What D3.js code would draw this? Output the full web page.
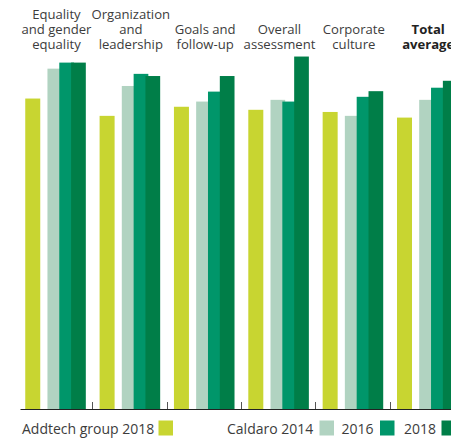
<!DOCTYPE html>
<html>
<head>
<meta charset="utf-8">
<script src="https://cdn.jsdelivr.net/npm/d3@7"></script>
<style>
    body { margin: 0; background: #fff; }
    svg { display: block; }
    .cat { font-family: "Open Sans", sans-serif; font-size: 13.1px; fill: #3c3c3c; }
    .cat.bold { font-weight: 700; fill: #222; }
    .leg { font-family: "Open Sans", sans-serif; font-size: 14px; fill: #3c3c3c; }
</style>
</head>
<body>
<svg id="chart"></svg>
<script>
// 类别 (每组的标题, 按行拆开)
const categories = ['equality', 'organization', 'goals', 'overall', 'culture', 'total'];
const categoryLines = [
    ['Equality', 'and gender', 'equality'],
    ['Organization', 'and', 'leadership'],
    ['Goals and', 'follow-up'],
    ['Overall', 'assessment'],
    ['Corporate', 'culture'],
    ['Total', 'average']
];
// 数值 (图上估读的指数)
const addtech2018 = [71.7, 67.7, 69.8, 69.1, 68.6, 67.3];
const caldaro2014 = [78.6, 74.6, 71.0, 71.4, 67.7, 71.4];
const caldaro2016 = [80.0, 77.4, 73.3, 71.0, 72.1, 74.2];
const caldaro2018 = [80.0, 76.9, 76.9, 81.4, 73.4, 75.8];
const caldaroYears = ['2014', '2016', '2018'];
const legendLabels = ['Addtech group 2018', 'Caldaro 2014', '2016', '2018'];

const colorDict = {
    'addtech': '#c8d531',
    '2014': '#b1d3c1',
    '2016': '#00966a',
    '2018': '#007e48'
};

let width = 451, height = 438;
let svg = d3.select('#chart')
    .attr('width', width)
    .attr('height', height);

// 横向比例尺 (每组一个 band)
let x0 = d3.scaleBand()
    .domain(categories)
    .range([17.95, 17.95 + 6 * 74.35])
    .paddingInner(0);
// 组内 Caldaro 三年 (互相重叠)
let x1 = d3.scaleBand()
    .domain(caldaroYears)
    .range([29.5, 65])
    .padding(0);
let barW = 15, caldaroW = 14.7;

// 纵向比例尺
let baseY = 409;
let y = d3.scaleLinear()
    .domain([0, 100])
    .range([baseY, baseY - 433]);

let gBars = svg.append('g');

// Addtech 柱子
gBars.selectAll('rect.addtech')
    .data(categories)
    .enter()
    .append('rect')
    .attr('class', 'addtech')
    .attr('x', d => x0(d) + 7.3)
    .attr('y', (d, i) => y(addtech2018[i]))
    .attr('width', barW)
    .attr('height', (d, i) => baseY - y(addtech2018[i]))
    .attr('fill', colorDict.addtech);

// Caldaro 柱子
let caldaroSeries = {'2014': caldaro2014, '2016': caldaro2016, '2018': caldaro2018};
caldaroYears.forEach(function (yr) {
    gBars.selectAll('rect.c' + yr)
        .data(categories)
        .enter()
        .append('rect')
        .attr('class', 'c' + yr)
        .attr('x', d => x0(d) + x1(yr))
        .attr('y', (d, i) => y(caldaroSeries[yr][i]))
        .attr('width', caldaroW)
        .attr('height', (d, i) => baseY - y(caldaroSeries[yr][i]))
        .attr('fill', colorDict[yr]);
});

// 底部轴线和刻度
svg.append('line')
    .attr('x1', 20.5).attr('x2', width)
    .attr('y1', baseY + 0.5).attr('y2', baseY + 0.5)
    .attr('stroke', '#222').attr('stroke-width', 1);
svg.selectAll('line.tick')
    .data(categories.slice(1))
    .enter()
    .append('line')
    .attr('class', 'tick')
    .attr('x1', d => Math.round(x0(d)) + 0.5)
    .attr('x2', d => Math.round(x0(d)) + 0.5)
    .attr('y1', baseY - 7)
    .attr('y2', baseY)
    .attr('stroke', '#555').attr('stroke-width', 1);

// 类别标题 (底部对齐)
let lineH = 15, lastBase = 49;
categories.forEach(function (c, i) {
    let lines = categoryLines[i];
    let t = svg.append('text')
        .attr('class', i === categories.length - 1 ? 'cat bold' : 'cat')
        .attr('text-anchor', 'middle');
    lines.forEach(function (ln, j) {
        t.append('tspan')
            .attr('x', x0(c) + 38.5)
            .attr('y', lastBase - (lines.length - 1 - j) * lineH)
            .text(ln);
    });
});

// 图例
let legendY = 434;
let legendItems = [
    {label: legendLabels[0], x: 22, swatch: 158.5, color: colorDict.addtech},
    {label: legendLabels[1], x: 227, swatch: 319.5, color: colorDict['2014']},
    {label: legendLabels[2], x: 341.5, swatch: 380, color: colorDict['2016']},
    {label: legendLabels[3], x: 404, swatch: 441.5, color: colorDict['2018']}
];
legendItems.forEach(function (d) {
    svg.append('text')
        .attr('class', 'leg')
        .attr('x', d.x)
        .attr('y', legendY)
        .text(d.label);
    svg.append('rect')
        .attr('x', d.swatch)
        .attr('y', 420.5)
        .attr('width', 14.5)
        .attr('height', 15)
        .attr('fill', d.color);
});
</script>
</body>
</html>
